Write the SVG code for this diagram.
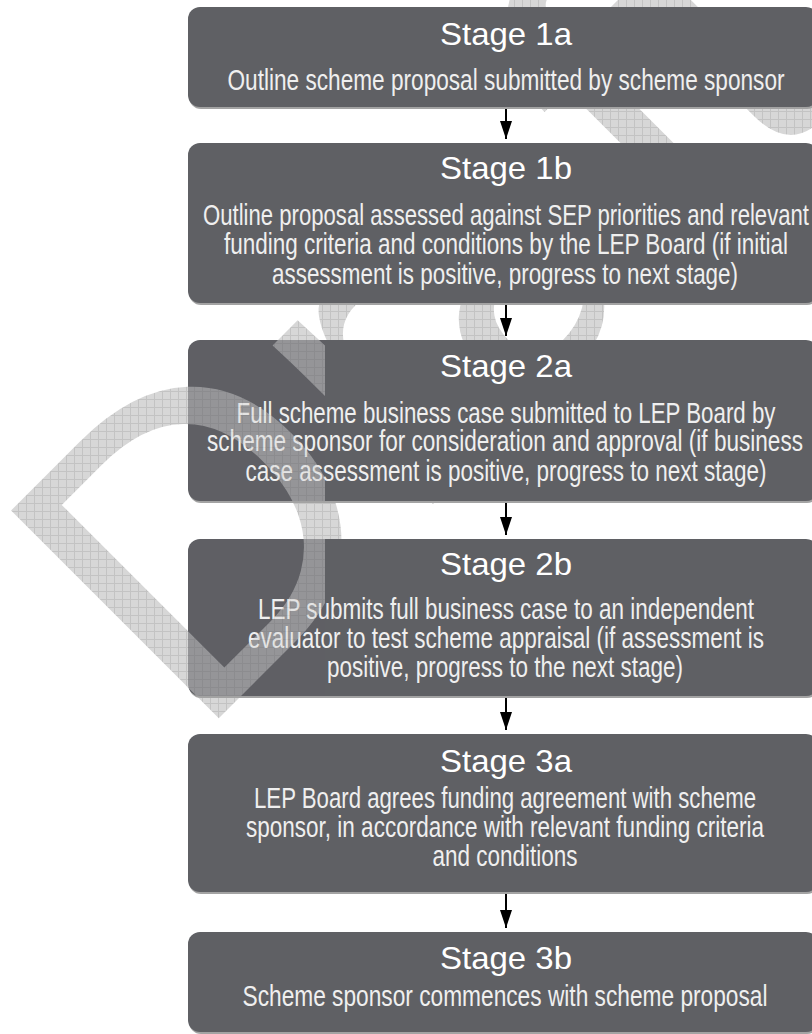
<svg xmlns="http://www.w3.org/2000/svg" xmlns:xlink="http://www.w3.org/1999/xlink" width="812" height="1034" viewBox="0 0 812 1034">
<style>
.box{fill:#5f6064}
.shadow{fill:#a3a3a3}
.title{font-family:"Liberation Sans",Arial,sans-serif;font-size:32px;fill:#ffffff;text-anchor:middle}
.body{font-family:"Liberation Sans Narrow","Liberation Sans",Arial,sans-serif;font-size:29px;fill:#efefef;text-anchor:middle}
.conn{stroke:#000;stroke-width:2;fill:none}
.wm{font-family:"Liberation Sans",Arial,sans-serif;font-size:427px;fill:url(#grid)}
</style>
<defs>
<pattern id="grid" patternUnits="userSpaceOnUse" width="8" height="8" patternTransform="rotate(45)">
<rect width="8" height="8" fill="#d7d7d7"/>
<path d="M0,0.5H8M0.5,0V8" stroke="#c3c3c3" stroke-width="1"/>
</pattern>
<marker id="arr" markerUnits="userSpaceOnUse" markerWidth="18" markerHeight="12" refX="18" refY="6" orient="auto">
<path d="M0,0 L18,6 L0,12 z" fill="#000"/>
</marker>
<clipPath id="front">
<rect x="186" y="340" width="139" height="161"/>
<rect x="186" y="539" width="139" height="157"/>
</clipPath>
</defs>
<rect width="812" height="1034" fill="#fff"/>
<g id="watermark">
<text id="wmtext" class="wm" transform="translate(194,743) rotate(-45)">Draft</text>
</g>
<g id="connectors">
<line class="conn" x1="506" y1="107" x2="506" y2="139" marker-end="url(#arr)"/>
<line class="conn" x1="506" y1="303" x2="506" y2="336" marker-end="url(#arr)"/>
<line class="conn" x1="506" y1="501" x2="506" y2="535" marker-end="url(#arr)"/>
<line class="conn" x1="506" y1="696" x2="506" y2="730" marker-end="url(#arr)"/>
<line class="conn" x1="506" y1="894" x2="506" y2="928" marker-end="url(#arr)"/>
</g>
<g id="stage1a">
<rect class="shadow" x="189" y="9" width="630" height="100" rx="12"/>
<rect class="box" x="188" y="7" width="630" height="100" rx="12"/>
<text class="title" x="506" y="45" textLength="132" lengthAdjust="spacingAndGlyphs">Stage 1a</text>
<text class="body" x="506" y="90" textLength="557" lengthAdjust="spacingAndGlyphs">Outline scheme proposal submitted by scheme sponsor</text>
</g>
<g id="stage1b">
<rect class="shadow" x="189" y="145" width="630" height="160" rx="12"/>
<rect class="box" x="188" y="143" width="630" height="160" rx="12"/>
<text class="title" x="506" y="179" textLength="132" lengthAdjust="spacingAndGlyphs">Stage 1b</text>
<text class="body" x="506" y="225" textLength="606" lengthAdjust="spacingAndGlyphs">Outline proposal assessed against SEP priorities and relevant</text>
<text class="body" x="506" y="254" textLength="564" lengthAdjust="spacingAndGlyphs">funding criteria and conditions by the LEP Board (if initial</text>
<text class="body" x="505" y="284" textLength="466" lengthAdjust="spacingAndGlyphs">assessment is positive, progress to next stage)</text>
</g>
<g id="stage2a">
<rect class="shadow" x="189" y="342" width="630" height="161" rx="12"/>
<rect class="box" x="188" y="340" width="630" height="161" rx="12"/>
<text class="title" x="506" y="377" textLength="132" lengthAdjust="spacingAndGlyphs">Stage 2a</text>
<text class="body" x="506" y="423" textLength="539" lengthAdjust="spacingAndGlyphs">Full scheme business case submitted to LEP Board by</text>
<text class="body" x="505" y="451" textLength="596" lengthAdjust="spacingAndGlyphs">scheme sponsor for consideration and approval (if business</text>
<text class="body" x="506" y="481" textLength="521" lengthAdjust="spacingAndGlyphs">case assessment is positive, progress to next stage)</text>
</g>
<g id="stage2b">
<rect class="shadow" x="189" y="541" width="630" height="157" rx="12"/>
<rect class="box" x="188" y="539" width="630" height="157" rx="12"/>
<text class="title" x="506" y="575" textLength="132" lengthAdjust="spacingAndGlyphs">Stage 2b</text>
<text class="body" x="506" y="619" textLength="496" lengthAdjust="spacingAndGlyphs">LEP submits full business case to an independent</text>
<text class="body" x="506" y="648" textLength="516" lengthAdjust="spacingAndGlyphs">evaluator to test scheme appraisal (if assessment is</text>
<text class="body" x="505" y="677" textLength="356" lengthAdjust="spacingAndGlyphs">positive, progress to the next stage)</text>
</g>
<g id="stage3a">
<rect class="shadow" x="189" y="736" width="630" height="158" rx="12"/>
<rect class="box" x="188" y="734" width="630" height="158" rx="12"/>
<text class="title" x="506" y="772" textLength="132" lengthAdjust="spacingAndGlyphs">Stage 3a</text>
<text class="body" x="505" y="808" textLength="502" lengthAdjust="spacingAndGlyphs">LEP Board agrees funding agreement with scheme</text>
<text class="body" x="505" y="837" textLength="518" lengthAdjust="spacingAndGlyphs">sponsor, in accordance with relevant funding criteria</text>
<text class="body" x="505" y="866" textLength="145" lengthAdjust="spacingAndGlyphs">and conditions</text>
</g>
<g id="stage3b">
<rect class="shadow" x="189" y="934" width="630" height="100" rx="12"/>
<rect class="box" x="188" y="932" width="630" height="100" rx="12"/>
<text class="title" x="506" y="969" textLength="132" lengthAdjust="spacingAndGlyphs">Stage 3b</text>
<text class="body" x="505" y="1006" textLength="525" lengthAdjust="spacingAndGlyphs">Scheme sponsor commences with scheme proposal</text>
</g>
<g id="watermark-front" clip-path="url(#front)" opacity="0.45">
<use xlink:href="#wmtext"/>
</g>
</svg>
